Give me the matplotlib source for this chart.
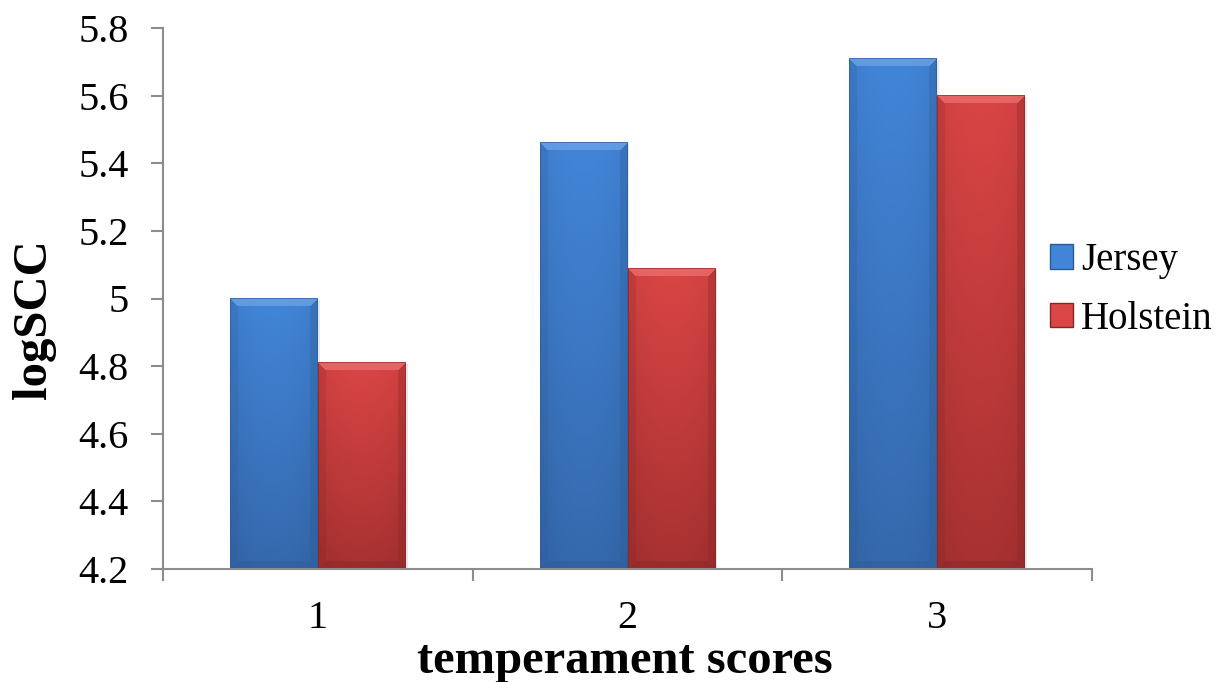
import numpy as np
import matplotlib.pyplot as plt
from matplotlib.patches import Patch
from matplotlib.colors import to_rgb

plt.rcParams['font.family'] = ['Liberation Serif', 'DejaVu Serif']

categories = ['1', '2', '3']
jersey = [5.00, 5.46, 5.71]
holstein = [4.81, 5.09, 5.60]
series_names = ['Jersey', 'Holstein']

# top colour, bottom colour, bevel light, bevel dark
blue = ['#4285d8', '#3569ad', '#74a9ee', '#2c5a96']
red = ['#da4545', '#a83131', '#f07676', '#862424']


def bevel_img(w, h, cols, b=8):
    top, bot, light, dark = [np.array(to_rgb(c)) for c in cols]
    yy, xx = np.mgrid[0:h, 0:w]
    t = (yy / max(h - 1, 1))[..., None]
    img = top * (1 - t) + bot * t
    # horizontal shading: slightly darker towards the sides
    s = np.abs(xx - (w - 1) / 2) / ((w - 1) / 2)
    img = img * (1 - 0.06 * s[..., None] ** 2)
    d_top, d_bot = yy, h - 1 - yy
    d_left, d_right = xx, w - 1 - xx
    dmin = np.minimum(np.minimum(d_top, d_bot), np.minimum(d_left, d_right))
    topm = (d_top < b) & (d_top == dmin)
    leftm = (d_left < b) & (d_left == dmin) & ~topm
    rightm = (d_right < b) & (d_right == dmin) & ~topm
    botm = (d_bot < b) & (d_bot == dmin) & ~topm & ~leftm & ~rightm
    img[topm] = img[topm] * 0.35 + light * 0.65
    img[leftm] = img[leftm] * 0.8 + dark * 0.2
    img[rightm] = img[rightm] * 0.7 + dark * 0.3
    img[botm] = img[botm] * 0.6 + dark * 0.4
    edge = dmin < 1
    img[edge] = img[edge] * 0.4 + dark * 0.6
    return np.clip(img, 0, 1)


fig = plt.figure(figsize=(12.27, 6.82), dpi=100)
ax = fig.add_axes([163 / 1227, (682 - 569) / 682, (1092 - 163) / 1227, (569 - 28) / 682])

x = np.arange(1, len(categories) + 1)
width = 0.284
b1 = ax.bar(x - width / 2, jersey, width, bottom=0, color=blue[0], zorder=2)
b2 = ax.bar(x + width / 2, holstein, width, bottom=0, color=red[0], zorder=2)

ax.set_xlim(0.5, 3.5)
ax.set_ylim(4.2, 5.8)
fig.canvas.draw()

for bars, cols in [(b1, blue), (b2, red)]:
    for bar in bars:
        x0 = bar.get_x()
        x1 = x0 + bar.get_width()
        y0, y1 = 4.2, bar.get_height()
        p0 = ax.transData.transform((x0, y0))
        p1 = ax.transData.transform((x1, y1))
        w = int(round(p1[0] - p0[0]))
        h = int(round(p1[1] - p0[1]))
        img = bevel_img(w, h, cols)
        # soft shadow to the right
        ax.imshow(np.ones((1, 1, 3)) * 0.82, extent=(x0 + 0.006, x1 + 0.006, y0, y1 - 0.006),
                  aspect='auto', zorder=2.5, alpha=0.5)
        ax.imshow(img, extent=(x0, x1, y0, y1), aspect='auto', zorder=3, interpolation='nearest')
        bar.set_visible(False)

ax.set_xlim(0.5, 3.5)
ax.set_ylim(4.2, 5.8)

ax.set_yticks(np.arange(4.2, 5.81, 0.2))
ax.set_yticklabels(['4.2', '4.4', '4.6', '4.8', '5', '5.2', '5.4', '5.6', '5.8'])
ax.set_xticks([0.5, 1.5, 2.5, 3.5])
ax.set_xticklabels([])
ax.set_xticks(x, minor=True)
ax.set_xticklabels(categories, minor=True)

for s in ['top', 'right']:
    ax.spines[s].set_visible(False)
for s in ['left', 'bottom']:
    ax.spines[s].set_color('#8c8c8c')
    ax.spines[s].set_linewidth(1.5)
    ax.spines[s].set_zorder(4)

ax.tick_params(axis='y', which='major', length=8.5, width=1.5, color='#8c8c8c', labelsize=29, pad=16)
ax.tick_params(axis='x', which='major', length=8.5, width=1.5, color='#8c8c8c')
ax.tick_params(axis='x', which='minor', length=0, labelsize=29, pad=22)

fig.text(625 / 1227, 1 - 661 / 682, 'temperament scores', fontsize=35, fontweight='bold',
         ha='center', va='center')
fig.text(34 / 1227, 1 - 319 / 682, 'logSCC', fontsize=35, fontweight='bold',
         rotation=90, ha='center', va='center')

handles = [Patch(facecolor=blue[0], edgecolor=blue[3]), Patch(facecolor=red[0], edgecolor=red[3])]
fig.legend(handles, series_names, loc='center left', bbox_to_anchor=(1050 / 1227, 1 - 290 / 682),
           frameon=False, fontsize=28, handlelength=0.6, handleheight=0.6, handletextpad=0.2,
           labelspacing=0.55, borderaxespad=0, borderpad=0)

fig.savefig('out.png', dpi=100)
